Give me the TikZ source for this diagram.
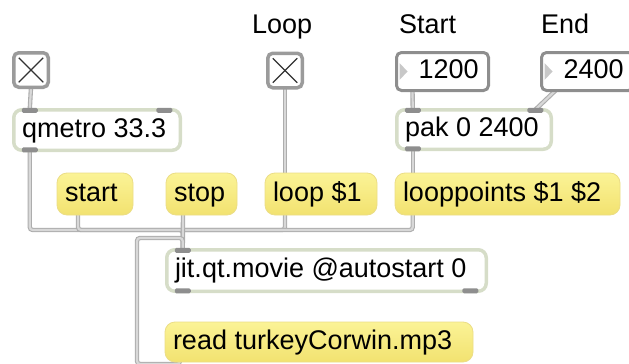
\documentclass[tikz,border=0pt]{standalone}
\usepackage{fontspec}
\setmainfont{Liberation Sans}
\usetikzlibrary{calc}
\pgfdeclarelayer{background}
\pgfsetlayers{background,main}
\definecolor{objborder}{HTML}{D6DDC8}
\definecolor{portc}{HTML}{8E8E8E}
\definecolor{togborder}{HTML}{9B9B9B}
\definecolor{numborder}{HTML}{8E8E8E}
\definecolor{msgtop}{HTML}{FBF396}
\definecolor{msgbot}{HTML}{F2E270}
\definecolor{msgedge}{HTML}{EBDD86}
\definecolor{cordout}{HTML}{ADADAD}
\definecolor{cordin}{HTML}{D8D8D8}
\definecolor{trif}{HTML}{C8C8C8}
\definecolor{xcol}{HTML}{333333}
\newcommand{\pdfont}{\fontsize{27}{32}\selectfont}
\newcommand{\pdtxt}[2]{\makebox[#1][l]{#2}}
\begin{document}
\begin{tikzpicture}[x=1pt,y=-1pt,
  base/.style={outer sep=0pt, inner xsep=8pt, inner ysep=0pt, font=\pdfont,
    text height=19.5pt, text depth=5.5pt},
  obj/.style={base, draw=objborder, line width=3.5pt, fill=white, rounded corners=8pt},
  msg/.style={base, top color=msgtop, bottom color=msgbot, draw=msgedge, line width=0.8pt, rounded corners=10pt, minimum height=42pt},
  numbox/.style={base, draw=numborder, line width=3pt, fill=white, rounded corners=5pt, minimum height=38pt},
  toggle/.style={draw=togborder, line width=3.5pt, fill=white, rounded corners=5pt, minimum size=34.5pt, inner sep=0pt, outer sep=0pt},
  lab/.style={font=\pdfont, inner sep=0pt, anchor=base west},
  port/.style={fill=portc, rounded corners=1.5pt},
  cord/.style={draw=cordout, double=cordin, double distance=2.2pt, line width=1.1pt, rounded corners=3pt},
  xline/.style={draw=xcol, line width=1.1pt}
]
\useasboundingbox (0,0) rectangle (629,364);
\clip (0,0) rectangle (629,364);

% labels
\node[lab] (lLoop) at (252,33) {Loop};
\node[lab] (lStart) at (399,33) {Start};
\node[lab] (lEnd) at (541,33) {End};

% toggles
\node[toggle] (tog1) at (31,70) {};
\node[toggle] (togL) at (285,70.5) {};
\foreach \t in {tog1,togL}{
  \draw[xline] ($(\t.north west)+(5,5)$) -- ($(\t.south east)+(-5,-5)$);
  \draw[xline] ($(\t.north east)+(-5,5)$) -- ($(\t.south west)+(5,-5)$);
}

% number boxes
\node[numbox, minimum width=92pt] (n1) at (442.5,71.5) {\pdtxt{76pt}{\hspace*{14pt}1200}};
\node[numbox, minimum width=92pt] (n2) at (587.5,71.5) {\pdtxt{76pt}{\hspace*{14pt}2400}};
\foreach \n in {n1,n2}{
  \fill[trif] ($(\n.west)+(3,-8.5)$) -- ($(\n.west)+(11,0)$) -- ($(\n.west)+(3,8.5)$) -- cycle;
}

% objects
\node[obj, minimum width=166.5pt, minimum height=40.5pt] (qm) at (97,130) {\pdtxt{150pt}{qmetro 33.3}};
\node[obj, minimum width=154.5pt, minimum height=39.5pt] (pak) at (474,129.5) {\pdtxt{138pt}{pak 0 2400}};
\node[obj, minimum width=319.5pt, minimum height=41.5pt] (jit) at (326.5,270.5) {\pdtxt{303pt}{jit.qt.movie @autostart 0}};

% messages
\node[msg, minimum width=76pt] (mstart) at (95,194) {\pdtxt{60pt}{start}};
\node[msg, minimum width=71pt] (mstop) at (201.5,194) {\pdtxt{55pt}{stop}};
\node[msg, minimum width=112pt] (mloop) at (321,194) {\pdtxt{96pt}{loop \$1}};
\node[msg, minimum width=225pt] (mlp) at (507.5,194) {\pdtxt{209pt}{looppoints \$1 \$2}};
\node[msg, minimum width=308pt, minimum height=40pt] (mread) at (319,342) {\pdtxt{292pt}{read turkeyCorwin.mp3}};

% ports of objects
\foreach \o in {qm,pak,jit}{
  \fill[port] ($(\o.north west)+(8,-2)$) rectangle ($(\o.north west)+(24,3)$);
  \fill[port] ($(\o.south west)+(8,-3)$) rectangle ($(\o.south west)+(24,2)$);
}
\fill[port] ($(qm.north east)+(-24,-2)$) rectangle ($(qm.north east)+(-8,3)$);
\fill[port] ($(pak.north east)+(-24,-2)$) rectangle ($(pak.north east)+(-8,3)$);
\fill[port] ($(jit.south east)+(-24,-3)$) rectangle ($(jit.south east)+(-8,2)$);

% port coordinates
\coordinate (qmin) at ($(qm.north west)+(16,0)$);
\coordinate (qmout) at ($(qm.south west)+(16,0)$);
\coordinate (pakin) at ($(pak.north west)+(16,0)$);
\coordinate (pakin2) at ($(pak.north east)+(-16,0)$);
\coordinate (pakout) at ($(pak.south west)+(16,0)$);
\coordinate (jin) at ($(jit.north west)+(16,0)$);
\coordinate (n1out) at ($(n1.south west)+(16,0)$);
\coordinate (n2out) at ($(n2.south west)+(14,0)$);
\coordinate (startout) at ($(mstart.south west)+(21,0)$);
\coordinate (stopout) at ($(mstop.south west)+(17,0)$);
\coordinate (loopin) at ($(mloop.north west)+(20,0)$);
\coordinate (loopout) at ($(mloop.south west)+(20,0)$);
\coordinate (lpin) at ($(mlp.north west)+(17.75,0)$);
\coordinate (lpout) at ($(mlp.south west)+(17.75,0)$);
\coordinate (rdout) at ($(mread.south west)+(15,0)$);
\coordinate (bus) at (182.75,230);
\coordinate (bus2) at (137,238);
\coordinate (rdlow) at (137,364);

% cords
\begin{pgfonlayer}{background}
\draw[cord] (tog1.south) -- (qmin);
\draw[cord] (togL.south) -- (loopin);
\draw[cord] (n1out) -- (pakin);
\draw[cord] (n2out) -- (pakin2);
\draw[cord] (pakout) -- (lpin);
\draw[cord] (qmout) |- (bus) -- (jin);
\draw[cord] (startout) |- (bus);
\draw[cord] (loopout) |- (bus);
\draw[cord] (lpout) |- (bus);
\draw[cord] (stopout) -- (jin);
\draw[cord] (rdout) |- (rdlow) -- (bus2) -| (jin);
\end{pgfonlayer}
\end{tikzpicture}
\end{document}
